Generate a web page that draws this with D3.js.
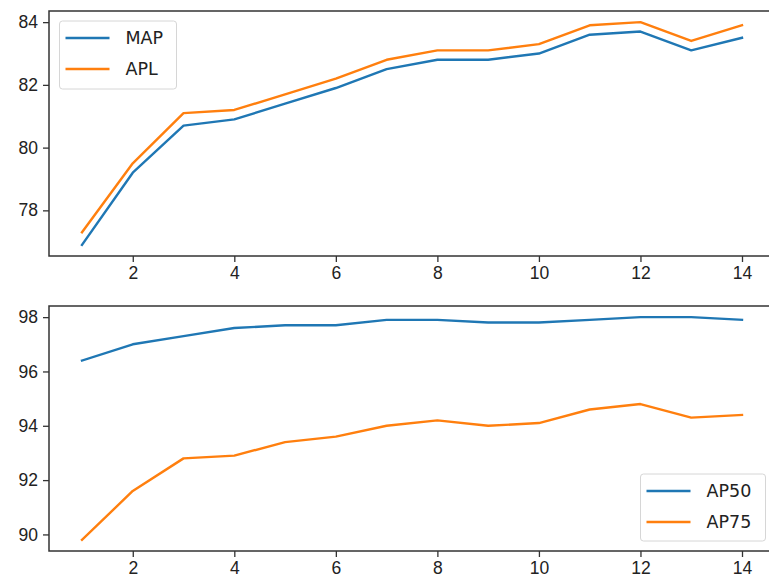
<!DOCTYPE html>
<html lang="en">
<head>
    <meta charset="UTF-8">
    <title>MAP / APL and AP50 / AP75</title>
    <script src="https://d3js.org/d3.v7.min.js"></script>
    <style>
        body { margin: 0; background: #fff; }
        svg { display: block; font-family: "DejaVu Sans", sans-serif; }
        .tick text { font-size: 17.5px; fill: #222; }
        .tick line { stroke: #333; stroke-width: 1.3; }
        .domain { display: none; }
    </style>
</head>
<body>
<script>
    // data
    const epochs = [1, 2, 3, 4, 5, 6, 7, 8, 9, 10, 11, 12, 13, 14];
    const mapVals = [76.9, 79.2, 80.7, 80.9, 81.4, 81.9, 82.5, 82.8, 82.8, 83.0, 83.6, 83.7, 83.1, 83.5];
    const aplVals = [77.3, 79.5, 81.1, 81.2, 81.7, 82.2, 82.8, 83.1, 83.1, 83.3, 83.9, 84.0, 83.4, 83.9];
    const ap50Vals = [96.4, 97.0, 97.3, 97.6, 97.7, 97.7, 97.9, 97.9, 97.8, 97.8, 97.9, 98.0, 98.0, 97.9];
    const ap75Vals = [89.8, 91.6, 92.8, 92.9, 93.4, 93.6, 94.0, 94.2, 94.0, 94.1, 94.6, 94.8, 94.3, 94.4];
    const xTicks = [2, 4, 6, 8, 10, 12, 14];
    const topTicks = [78, 80, 82, 84];
    const bottomTicks = [90, 92, 94, 96, 98];

    const blue = "#1f77b4";
    const orange = "#ff7f0e";

    const W = 769, H = 584;
    const svg = d3.select("body").append("svg")
        .attr("width", W)
        .attr("height", H);

    // pad the extent by 5% like matplotlib does
    function padded(arr) {
        const [lo, hi] = d3.extent(arr);
        const m = (hi - lo) * 0.05;
        return [lo - m, hi + m];
    }

    function panel(top, bottom, series, yTicks, legend) {
        const left = 49, right = 775;
        const x = d3.scaleLinear().domain(padded(epochs)).range([left, right]);
        const y = d3.scaleLinear().domain(padded(series.flatMap(s => s.values))).range([bottom, top]);

        const g = svg.append("g");

        const line = d3.line()
            .x((d, i) => x(epochs[i]))
            .y(d => y(d));

        series.forEach(s => {
            g.append("path")
                .datum(s.values)
                .attr("fill", "none")
                .attr("stroke", s.color)
                .attr("stroke-width", 2.4)
                .attr("stroke-linejoin", "round")
                .attr("stroke-linecap", "square")
                .attr("d", line);
        });

        // frame
        g.append("rect")
            .attr("x", left).attr("y", top)
            .attr("width", right - left).attr("height", bottom - top)
            .attr("fill", "none")
            .attr("stroke", "#333")
            .attr("stroke-width", 1.5);

        g.append("g")
            .attr("transform", "translate(0," + bottom + ")")
            .call(d3.axisBottom(x).tickValues(xTicks).tickSize(6).tickPadding(5).tickFormat(d3.format("d")));

        g.append("g")
            .attr("transform", "translate(" + left + ",0)")
            .call(d3.axisLeft(y).tickValues(yTicks).tickSize(6).tickPadding(5).tickFormat(d3.format("d")));

        // legend
        const lg = g.append("g");
        lg.append("rect")
            .attr("x", legend.x).attr("y", legend.y)
            .attr("width", legend.w).attr("height", legend.h)
            .attr("rx", 3)
            .attr("fill", "#fff")
            .attr("fill-opacity", 0.8)
            .attr("stroke", "#d6d6d6")
            .attr("stroke-width", 1);
        series.forEach((s, i) => {
            const cy = legend.y + 17 + i * 31;
            lg.append("line")
                .attr("x1", legend.x + 6).attr("x2", legend.x + 50)
                .attr("y1", cy).attr("y2", cy)
                .attr("stroke", s.color)
                .attr("stroke-width", 2.4);
            lg.append("text")
                .attr("x", legend.x + 66)
                .attr("y", cy)
                .attr("dy", "0.35em")
                .attr("font-size", "17.5px")
                .attr("fill", "#222")
                .text(s.name);
        });
    }

    panel(11, 256,
        [{ name: "MAP", values: mapVals, color: blue }, { name: "APL", values: aplVals, color: orange }],
        topTicks, { x: 59.5, y: 21, w: 117, h: 68 });

    panel(306, 551,
        [{ name: "AP50", values: ap50Vals, color: blue }, { name: "AP75", values: ap75Vals, color: orange }],
        bottomTicks, { x: 640.5, y: 474, w: 125, h: 67 });
</script>
</body>
</html>
